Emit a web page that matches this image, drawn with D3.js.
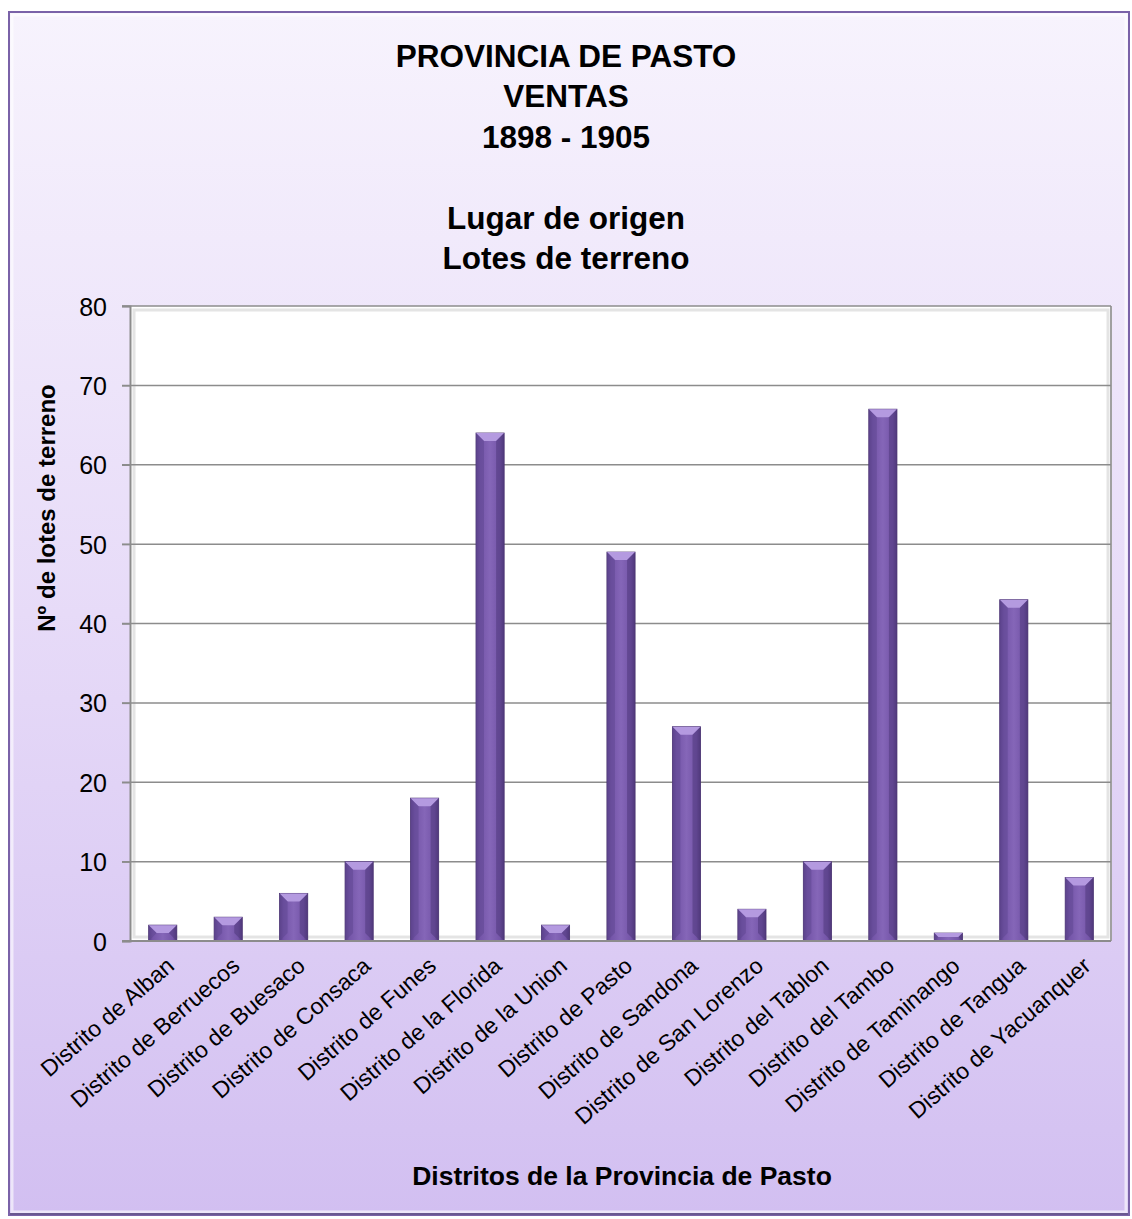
<!DOCTYPE html>
<html><head><meta charset="utf-8">
<script src="https://cdn.jsdelivr.net/npm/d3@7"></script>
<style>body{margin:0;background:#fff}svg{display:block}text{font-family:"Liberation Sans",Arial,sans-serif}</style>
</head><body>
<script>
const categories = ["Distrito de Alban","Distrito de Berruecos","Distrito de Buesaco","Distrito de Consaca","Distrito de Funes","Distrito de la Florida","Distrito de la Union","Distrito de Pasto","Distrito de Sandona","Distrito de San Lorenzo","Distrito del Tablon","Distrito del Tambo","Distrito de Taminango","Distrito de Tangua","Distrito de Yacuanquer"];
const values = [2,3,6,10,18,64,2,49,27,4,10,67,1,43,8];
const yTicks = [0,10,20,30,40,50,60,70,80];
const titleLines = ["PROVINCIA DE PASTO","VENTAS","1898 - 1905","","Lugar de origen","Lotes de terreno"];
const yTitle = "Nº de lotes de terreno";
const xTitle = "Distritos de la Provincia de Pasto";

const W=1132,H=1219;
const svg=d3.select("body").append("svg").attr("width",W).attr("height",H);
const defs=svg.append("defs");
const bg=defs.append("linearGradient").attr("id","bg").attr("x1",0).attr("y1",0).attr("x2",0).attr("y2",1);
bg.append("stop").attr("offset","0").attr("stop-color","#f7f3fd");
bg.append("stop").attr("offset","0.5").attr("stop-color","#e7dbf8");
bg.append("stop").attr("offset","1").attr("stop-color","#d2bff1");
const bar=defs.append("linearGradient").attr("id","bar").attr("x1",0).attr("y1",0).attr("x2",1).attr("y2",0);
bar.append("stop").attr("offset","0").attr("stop-color","#5a4088");
bar.append("stop").attr("offset","0.15").attr("stop-color","#7455a8");
bar.append("stop").attr("offset","0.5").attr("stop-color","#8566b8");
bar.append("stop").attr("offset","0.85").attr("stop-color","#7455a8");
bar.append("stop").attr("offset","1").attr("stop-color","#553c80");

// outer frame
svg.append("rect").attr("x",9).attr("y",12).attr("width",1120).attr("height",1203)
  .attr("fill","url(#bg)").attr("stroke","#7a62a8").attr("stroke-width",2);
svg.append("rect").attr("x",12).attr("y",15).attr("width",1114).attr("height",1197)
  .attr("fill","none").attr("stroke","#ffffff").attr("stroke-opacity",0.6).attr("stroke-width",3);
svg.append("line").attr("x1",10).attr("x2",1128).attr("y1",1214).attr("y2",1214).attr("stroke","#6a5890").attr("stroke-width",2);

const x=d3.scaleBand().domain(categories).range([130,1112]).paddingInner(0.57).paddingOuter(0.285);
const y=d3.scaleLinear().domain([0,80]).range([941,306]);

// plot area
svg.append("rect").attr("x",130).attr("y",306).attr("width",982).attr("height",635).attr("fill","#ffffff");
svg.append("rect").attr("x",134).attr("y",310).attr("width",974).attr("height",627).attr("fill","none")
  .attr("stroke","#e4e4e4").attr("stroke-width",3);
svg.append("line").attr("x1",1111).attr("x2",1111).attr("y1",306).attr("y2",941).attr("stroke","#a0a0a0").attr("stroke-width",2);

// grid
svg.append("g").selectAll("line").data(yTicks).join("line")
  .attr("x1",122).attr("x2",1111).attr("y1",d=>y(d)).attr("y2",d=>y(d))
  .attr("stroke","#8c8c8c").attr("stroke-width",1.5);

// y axis
const ya=svg.append("g").attr("transform","translate(130,0)")
  .call(d3.axisLeft(y).tickValues(yTicks).tickSize(8).tickPadding(15));
ya.select(".domain").attr("stroke","#8c8c8c").attr("stroke-width",2);
ya.selectAll(".tick line").attr("stroke","#8c8c8c").attr("stroke-width",1.5);
ya.selectAll("text").attr("font-size",25).attr("fill","#000").attr("font-family","Liberation Sans, Arial").attr("dy","0.36em");

// bars
const bw=x.bandwidth();
const g=svg.append("g");
categories.forEach((c,i)=>{
  const x0=x(c), y0=y(values[i]), h=y(0)-y0;
  g.append("rect").attr("x",x0).attr("y",y0).attr("width",bw).attr("height",h)
   .attr("fill","url(#bar)").attr("stroke","#4a3370").attr("stroke-width",0.8);
  const b=Math.min(8,h/2);
  g.append("polygon").attr("points",[[x0,y0],[x0+bw,y0],[x0+bw-b,y0+b],[x0+b,y0+b]].map(p=>p.join(",")).join(" "))
   .attr("fill","#b49ae0");
  g.append("polygon").attr("points",[[x0,y0],[x0+b,y0+b],[x0+b,y0+h-b],[x0,y0+h]].map(p=>p.join(",")).join(" "))
   .attr("fill","#5e4590").attr("opacity",0.5);
  g.append("polygon").attr("points",[[x0+bw,y0],[x0+bw-b,y0+b],[x0+bw-b,y0+h-b],[x0+bw,y0+h]].map(p=>p.join(",")).join(" "))
   .attr("fill","#4c3578").attr("opacity",0.5);
});

// x axis
const xa=svg.append("g").attr("transform","translate(0,941)")
  .call(d3.axisBottom(x).tickSize(0).tickPadding(0));
xa.select(".domain").attr("stroke","#8c8c8c").attr("stroke-width",2).attr("d","M122,0H1111");
xa.selectAll("text").attr("font-size",23).attr("fill","#000").attr("text-anchor","end")
  .attr("dy",0).attr("transform",`translate(13,27) rotate(-41)`).attr("y",0).attr("x",0);

// titles
titleLines.forEach((t,i)=>{
  if(!t) return;
  svg.append("text").attr("x",566).attr("y",67+i*40.4).attr("text-anchor","middle")
   .attr("font-size",31.5).attr("font-weight","bold").text(t);
});
svg.append("text").attr("transform","translate(55,508) rotate(-90)").attr("text-anchor","middle")
  .attr("font-size",24).attr("font-weight","bold").text(yTitle);
svg.append("text").attr("x",622).attr("y",1185).attr("text-anchor","middle")
  .attr("font-size",26.5).attr("font-weight","bold").text(xTitle);
</script>
</body></html>
